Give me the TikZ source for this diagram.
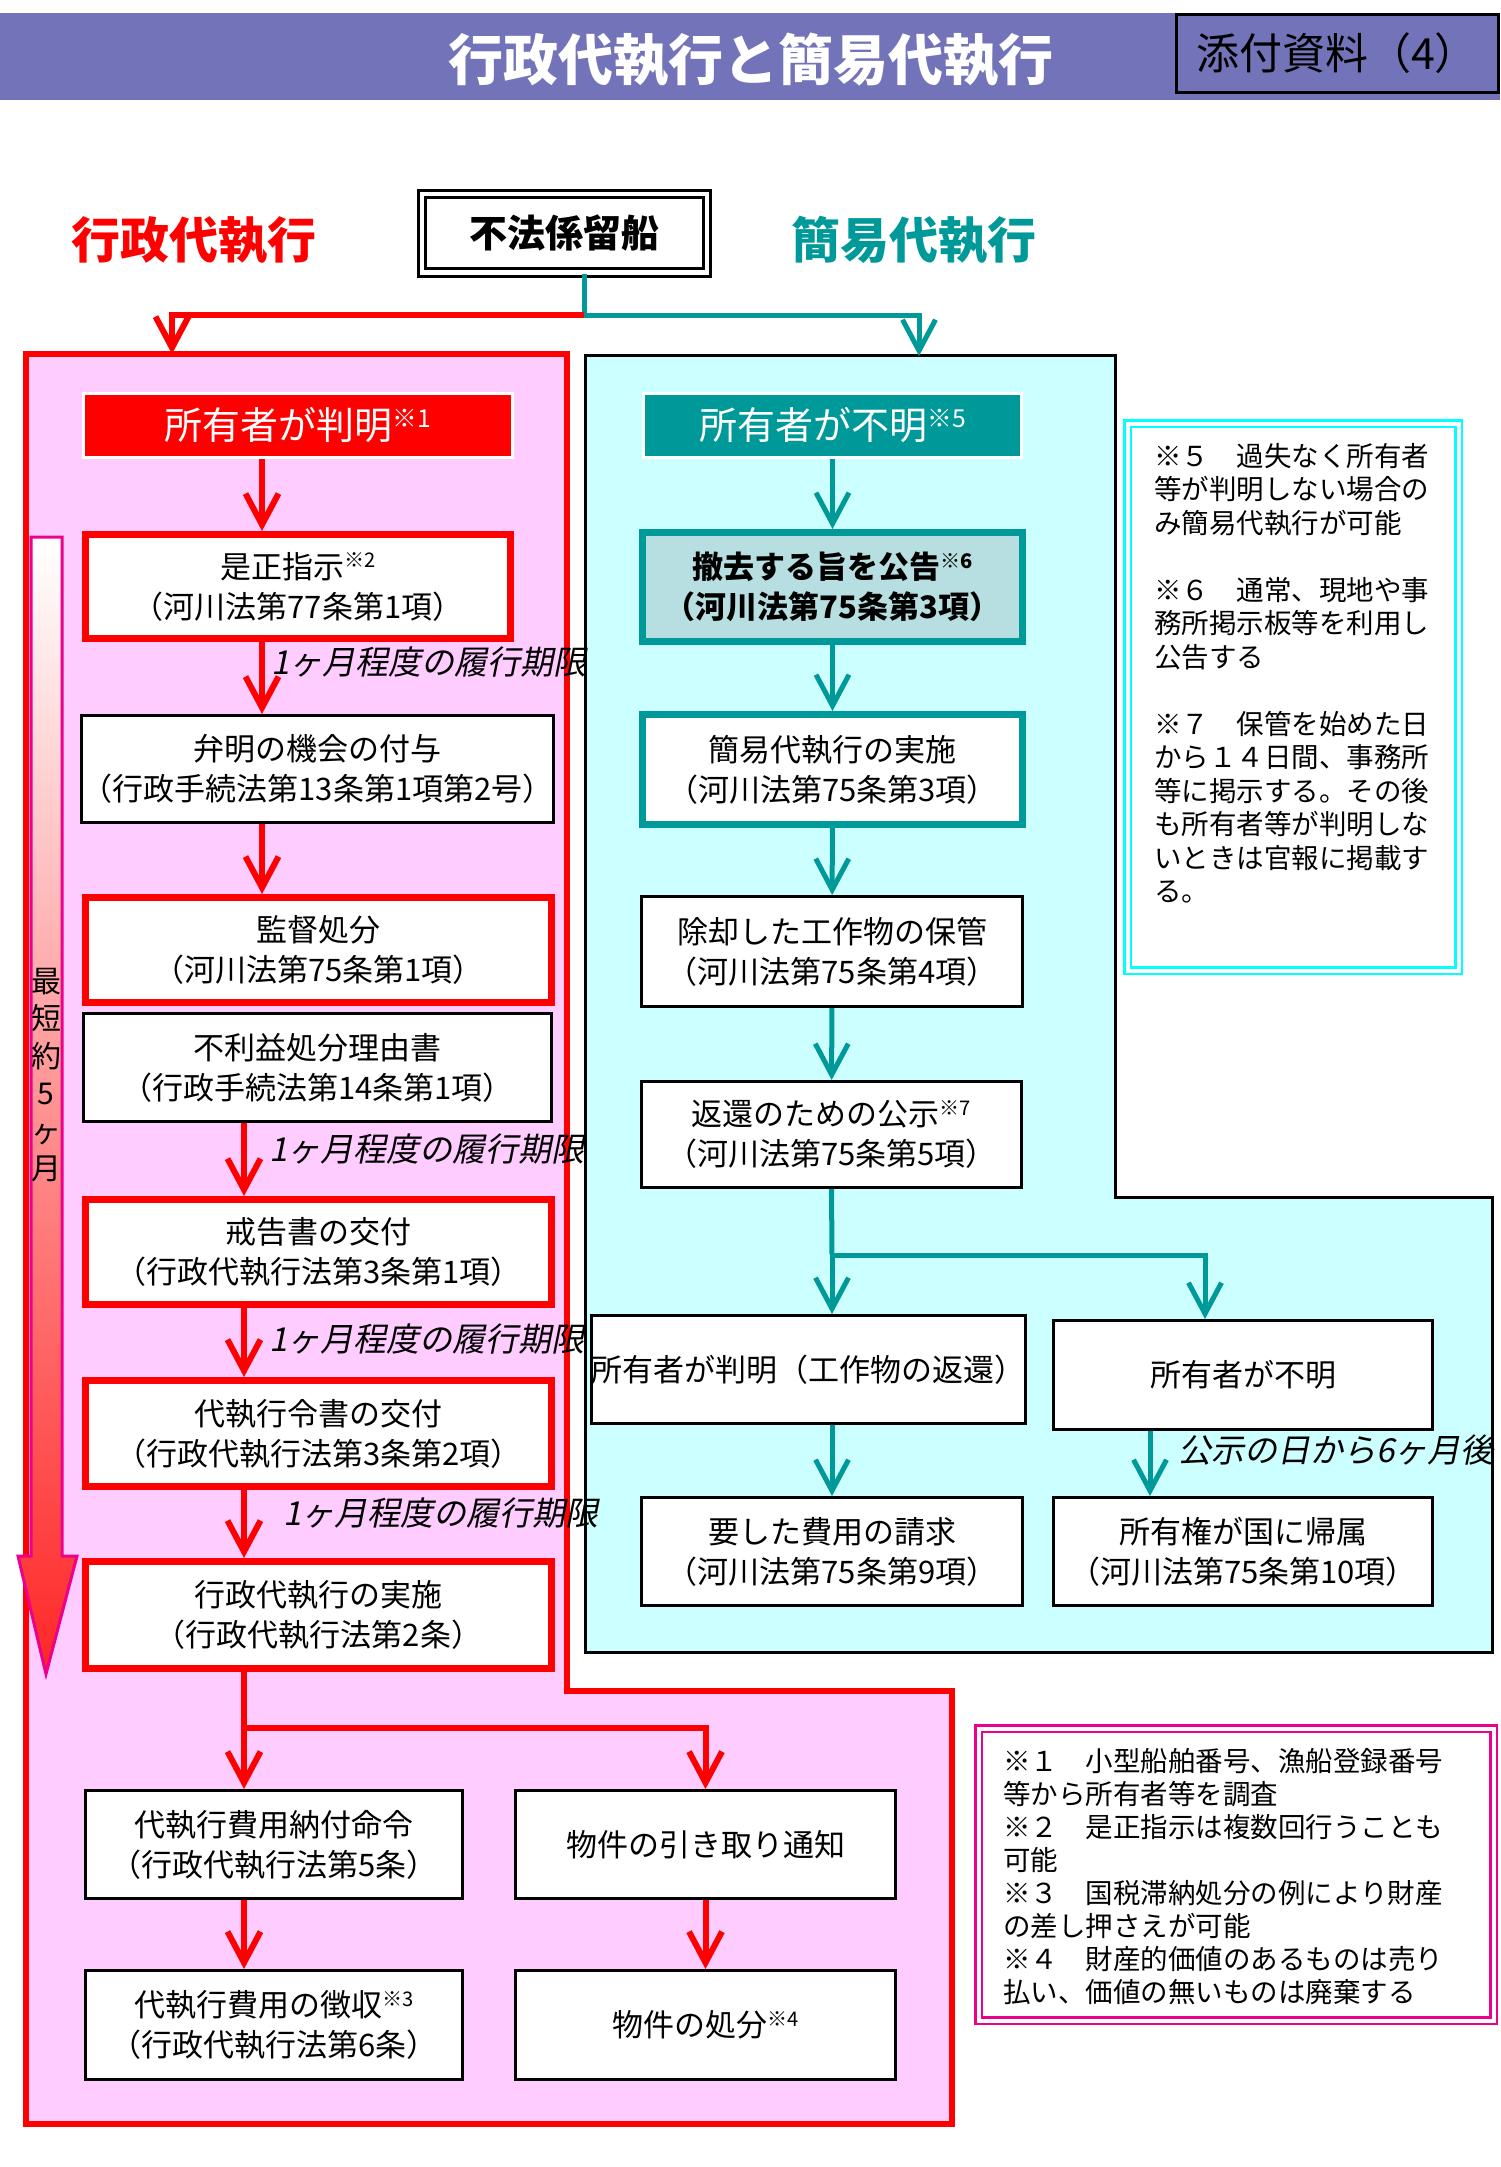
\documentclass[tikz,border=0pt]{standalone}
\usepackage{fontspec}
\usepackage{graphicx}
\setmainfont{Noto Sans CJK JP}
\newfontfamily\slantfont[FakeSlant=0.2]{Noto Sans CJK JP}
\usetikzlibrary{arrows.meta}
\definecolor{kpink}{RGB}{255,204,255}
\definecolor{kcyan}{RGB}{204,255,255}
\definecolor{kteal}{RGB}{0,153,153}
\definecolor{kgrey}{RGB}{183,222,224}
\definecolor{kpurple}{RGB}{115,115,185}
\definecolor{kframe}{RGB}{0,255,255}
\newcommand{\refmark}[1]{\raisebox{0.33em}{\scalebox{0.65}{※#1}}}

\begin{document}
\begin{tikzpicture}[x=1pt, y=-1pt,
	boxtext/.style={font=\fontsize{31}{40}\selectfont, align=center, inner sep=0pt},
	redbox/.style={boxtext, draw=red, line width=7pt, fill=white},
	blackbox/.style={boxtext, draw=black, line width=3pt, fill=white},
	tealbox/.style={boxtext, draw=kteal, line width=7pt, fill=white},
	headbox/.style={draw=white, line width=3pt, text=white, font=\fontsize{38}{40}\selectfont, minimum height=64pt},
	redline/.style={draw=red, line width=6pt},
	redarrow/.style={redline, -{Straight Barb[length=31pt, width=33pt]}},
	tealline/.style={draw=kteal, line width=5pt},
	tealarrow/.style={tealline, -{Straight Barb[length=31pt, width=33pt]}},
	deadline/.style={font=\slantfont\fontsize{33}{33}\selectfont, right, inner sep=0pt},
	notetext/.style={align=left, anchor=north west, inner sep=0pt, font=\fontsize{27.5}{33.5}\selectfont},
	noteframe/.style={double=white, line width=2.5pt, double distance=4pt, fill=white},
]
	\useasboundingbox (0,0) rectangle (1500,2167);

	% title bar
	\node[fill=kpurple, minimum width=1500pt, minimum height=87pt, inner sep=0pt, anchor=north west] (TitleBar) at (0,13) {};
	\node[text=white, font=\bfseries\fontsize{55}{55}\selectfont] (Title) at (751,60) {行政代執行と簡易代執行};
	\node[draw=black, line width=3pt, fill=kpurple, minimum width=322pt, minimum height=78pt, font=\fontsize{43}{43}\selectfont] (Badge) at (1337,53.5) {添付資料（4）};

	% headings
	\node[text=red, font=\bfseries\fontsize{49}{49}\selectfont] (AdminHead) at (194,240) {行政代執行};
	\node[text=kteal, font=\bfseries\fontsize{49}{49}\selectfont] (SimpleHead) at (913.5,240) {簡易代執行};
	\node[draw, line width=3pt, double=white, double distance=4pt, fill=white, minimum width=285pt, minimum height=78pt, font=\bfseries\fontsize{38}{38}\selectfont] (Ship) at (564.5,233.5) {不法係留船};

	% the two areas
	\draw[red, line width=6pt, fill=kpink] (26,354) -- (567,354) -- (567,1691) -- (952,1691) -- (952,2124) -- (26,2124) -- cycle;
	\draw[black, line width=3pt, fill=kcyan] (585,355) -- (1115,355) -- (1115,1197) -- (1492,1197) -- (1492,1652) -- (585,1652) -- cycle;

	% period arrow
	\shade[top color=white, bottom color=red!85!white, draw=magenta, line width=3pt] (31,537) -- (62,537) -- (62,1556) -- (77,1556) -- (46,1674) -- (18,1556) -- (31,1556) -- cycle;
	\node[align=center, inner sep=0pt, font=\fontsize{30}{37.4}\selectfont] (Period) at (46,1075) {最\\短\\約\\5\\ヶ\\月};

	% administrative execution
	\node[headbox, fill=red, minimum width=429pt] (Known) at (298,425.5) {所有者が判明\refmark{1}};
	\node[redbox, minimum width=425pt, minimum height=104pt] (Zesei) at (298,586.5) {是正指示\refmark{2}\\（河川法第77条第1項）};
	\node[blackbox, minimum width=468pt, minimum height=107pt] (Benmei) at (317.5,769) {弁明の機会の付与\\（行政手続法第13条第1項第2号）};
	\node[redbox, minimum width=466pt, minimum height=105pt] (Kantoku) at (318.5,950) {監督処分\\（河川法第75条第1項）};
	\node[blackbox, minimum width=468pt, minimum height=108pt] (Furieki) at (317.5,1067.5) {不利益処分理由書\\（行政手続法第14条第1項）};
	\node[redbox, minimum width=466pt, minimum height=105pt] (Kaikoku) at (318.5,1252) {戒告書の交付\\（行政代執行法第3条第1項）};
	\node[redbox, minimum width=466pt, minimum height=106pt] (Reisho) at (318.5,1433.5) {代執行令書の交付\\（行政代執行法第3条第2項）};
	\node[redbox, minimum width=466pt, minimum height=107pt] (Jisshi) at (318.5,1615) {行政代執行の実施\\（行政代執行法第2条）};
	\node[blackbox, minimum width=377pt, minimum height=108pt] (Nofu) at (274,1844.5) {代執行費用納付命令\\（行政代執行法第5条）};
	\node[blackbox, minimum width=380pt, minimum height=108pt] (Hikitori) at (705.5,1844.5) {物件の引き取り通知};
	\node[blackbox, minimum width=377pt, minimum height=109pt] (Choshu) at (274,2025) {代執行費用の徴収\refmark{3}\\（行政代執行法第6条）};
	\node[blackbox, minimum width=380pt, minimum height=109pt] (Shobun) at (705.5,2025) {物件の処分\refmark{4}};

	% simple execution
	\node[headbox, fill=kteal, minimum width=378pt] (Unknown) at (832.5,425.5) {所有者が不明\refmark{5}};
	\node[tealbox, fill=kgrey, font=\bfseries\fontsize{31}{40}\selectfont, minimum width=380pt, minimum height=109pt] (Kokoku) at (832.5,587) {撤去する旨を公告\refmark{6}\\（河川法第75条第3項）};
	\node[tealbox, minimum width=380pt, minimum height=110pt] (Kani) at (832.5,769.5) {簡易代執行の実施\\（河川法第75条第3項）};
	\node[blackbox, minimum width=381pt, minimum height=110pt] (Hokan) at (832,951.5) {除却した工作物の保管\\（河川法第75条第4項）};
	\node[blackbox, minimum width=380pt, minimum height=106pt] (Koji) at (831.5,1134.5) {返還のための公示\refmark{7}\\（河川法第75条第5項）};
	\node[blackbox, minimum width=427pt, minimum height=108pt] (Henkan) at (808,1369.5) {所有者が判明（工作物の返還）};
	\node[blackbox, minimum width=379pt, minimum height=109pt] (Fumei) at (1243,1375) {所有者が不明};
	\node[blackbox, minimum width=381pt, minimum height=108pt] (Seikyu) at (832,1551.5) {要した費用の請求\\（河川法第75条第9項）};
	\node[blackbox, minimum width=379pt, minimum height=108pt] (Kizoku) at (1243,1551.5) {所有権が国に帰属\\（河川法第75条第10項）};

	% connectors
	\coordinate (Split) at (584,315);
	\coordinate (RedTop) at (172,354);
	\coordinate (TealTop) at (919,356);
	\coordinate (AxisA) at (262,0);
	\coordinate (AxisB) at (244,0);
	\coordinate (BranchL) at (244,1728);
	\coordinate (BranchR) at (832,1255);
	\coordinate (AxisD) at (1205,0);
	\coordinate (AxisE) at (1150,0);
	\draw[tealline] (Ship.south -| Split) to (Split);
	\draw[redarrow] (Split) -| (RedTop);
	\draw[tealarrow] (Split) -| (TealTop);

	\draw[redarrow] (Known.south -| AxisA) to (Zesei.north -| AxisA);
	\draw[redarrow] (Zesei.south -| AxisA) to node[deadline, pos=0.28, xshift=6pt] {1ヶ月程度の履行期限} (Benmei.north -| AxisA);
	\draw[redarrow] (Benmei.south -| AxisA) to (Kantoku.north -| AxisA);
	\draw[redarrow] (Furieki.south -| AxisB) to node[deadline, pos=0.35, xshift=22pt] {1ヶ月程度の履行期限} (Kaikoku.north -| AxisB);
	\draw[redarrow] (Kaikoku.south -| AxisB) to node[deadline, pos=0.45, xshift=22pt] {1ヶ月程度の履行期限} (Reisho.north -| AxisB);
	\draw[redarrow] (Reisho.south -| AxisB) to node[deadline, pos=0.34, xshift=36pt] {1ヶ月程度の履行期限} (Jisshi.north -| AxisB);
	\draw[redline] (Jisshi.south -| AxisB) to (BranchL);
	\draw[redarrow] (BranchL) to (Nofu.north -| BranchL);
	\draw[redarrow] (BranchL) -| (Hikitori.north);
	\draw[redarrow] (Nofu.south -| AxisB) to (Choshu.north -| AxisB);
	\draw[redarrow] (Hikitori.south) to (Shobun.north);

	\draw[tealarrow] (Unknown) to (Kokoku);
	\draw[tealarrow] (Kokoku) to (Kani);
	\draw[tealarrow] (Kani) to (Hokan);
	\draw[tealarrow] (Hokan) to (Koji);
	\draw[tealline] (Koji.south) to (BranchR);
	\draw[tealarrow] (BranchR) to (Henkan.north -| BranchR);
	\draw[tealarrow] (BranchR) -| (Fumei.north -| AxisD);
	\draw[tealarrow] (Henkan.south -| Seikyu.north) to (Seikyu.north);
	\draw[tealarrow] (Fumei.south -| AxisE) to node[deadline, pos=0.3, xshift=26pt] {公示の日から6ヶ月後} (Kizoku.north -| AxisE);

	% notes
	\node[noteframe, draw=kframe, minimum width=331pt, minimum height=547pt] (NoteRiver) at (1293,697) {};
	\node[notetext] (NoteRiverText) at (1154,443) {※５　過失なく所有者\\等が判明しない場合の\\み簡易代執行が可能\\[33.5pt]※６　通常、現地や事\\務所掲示板等を利用し\\公告する\\[33.5pt]※７　保管を始めた日\\から１４日間、事務所\\等に掲示する。その後\\も所有者等が判明しな\\いときは官報に掲載す\\る。};
	\node[noteframe, draw=magenta, minimum width=515pt, minimum height=292pt] (NoteOwner) at (1236,1874.5) {};
	\node[notetext, font=\fontsize{27.5}{33}\selectfont] (NoteOwnerText) at (1003,1748) {※１　小型船舶番号、漁船登録番号\\等から所有者等を調査\\※２　是正指示は複数回行うことも\\可能\\※３　国税滞納処分の例により財産\\の差し押さえが可能\\※４　財産的価値のあるものは売り\\払い、価値の無いものは廃棄する};
\end{tikzpicture}
\end{document}
